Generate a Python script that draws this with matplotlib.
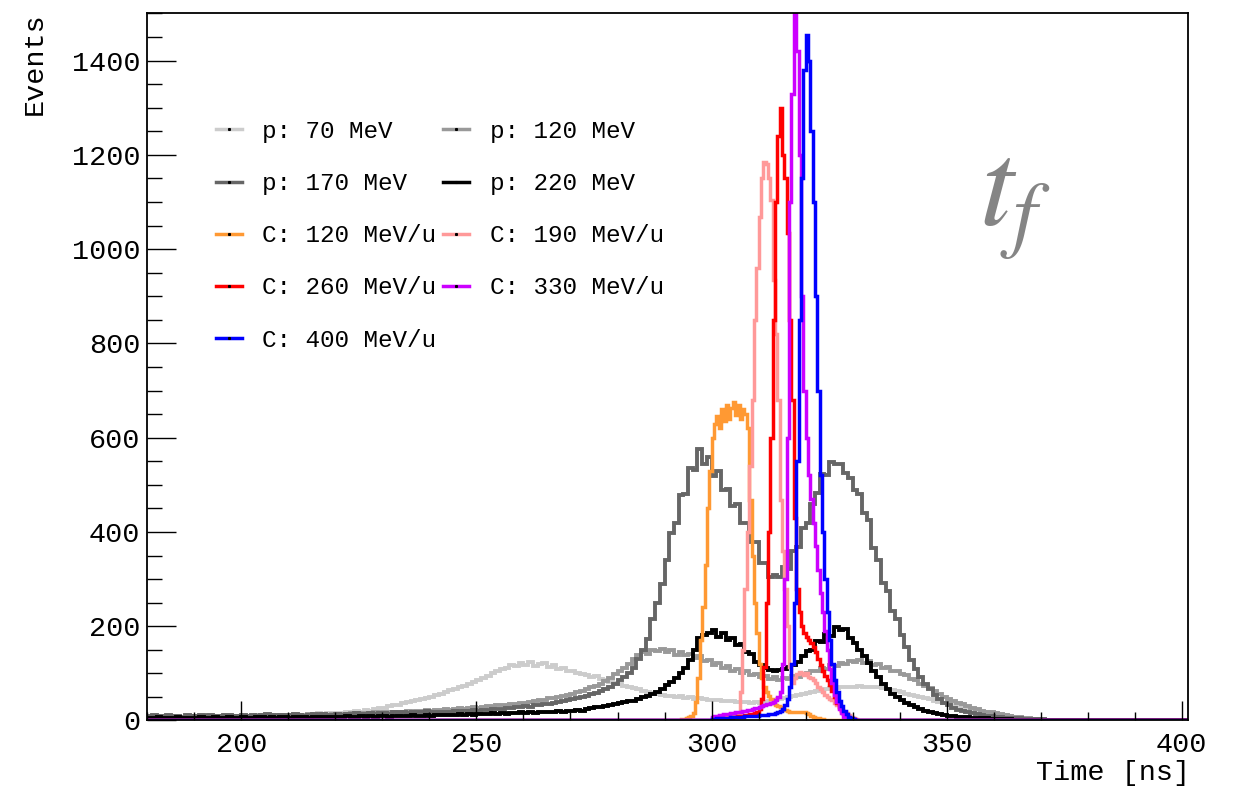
import numpy as np
import matplotlib
matplotlib.use("Agg")
import matplotlib.pyplot as plt
from matplotlib.ticker import MultipleLocator
from matplotlib.lines import Line2D

# time range of the histograms [ns]
t_lo = 180.0
t_hi = 401.3

labels = ["p: 70 MeV", "p: 120 MeV", "p: 170 MeV", "p: 220 MeV",
          "C: 120 MeV/u", "C: 190 MeV/u", "C: 260 MeV/u", "C: 330 MeV/u",
          "C: 400 MeV/u"]
colors = ["#cccccc", "#999999", "#666666", "#000000",
          "#ff9933", "#ff9999", "#ff0000", "#cc00ff", "#0000ff"]

# protons: 1 ns bins starting at 180 ns
p70 = [6, 5, 7, 6, 8, 6, 7, 5, 8, 7,
       6, 8, 7, 9, 7, 8, 6, 9, 8, 7,
       9, 8, 10, 8, 9, 11, 9, 10, 12, 10,
       11, 13, 11, 12, 14, 12, 15, 13, 16, 14,
       16, 15, 18, 17, 20, 19, 22, 21, 24, 26,
       27, 30, 32, 33, 37, 39, 42, 43, 46, 48,
       50, 54, 56, 60, 64, 66, 72, 74, 78, 82,
       85, 90, 95, 100, 104, 110, 112, 118, 115, 122,
       118, 124, 116, 120, 122, 114, 118, 110, 112, 104,
       106, 100, 98, 96, 92, 94, 88, 86, 82, 80,
       78, 74, 72, 68, 66, 63, 60, 58, 56, 55,
       53, 52, 50, 51, 48, 49, 46, 47, 45, 44,
       44, 43, 42, 42, 41, 40, 39, 40, 38, 39,
       38, 40, 41, 43, 45, 47, 49, 52, 54, 56,
       58, 60, 62, 64, 66, 68, 69, 70, 72, 71,
       72, 73, 71, 72, 70, 70, 68, 66, 64, 62,
       60, 57, 55, 52, 50, 47, 45, 42, 40, 37,
       35, 32, 30, 27, 25, 23, 21, 18, 17, 15,
       14, 12, 11, 9, 8, 7, 6, 5, 4, 3,
       3, 2, 2, 1, 1]
p120 = [8, 7, 9, 8, 10, 8, 9, 7, 8, 9,
        8, 9, 10, 8, 9, 10, 9, 8, 10, 9,
        9, 10, 9, 11, 10, 9, 11, 10, 12, 10,
        11, 10, 12, 11, 13, 11, 12, 13, 12, 14,
        13, 14, 13, 15, 14, 16, 15, 16, 17, 16,
        17, 18, 17, 19, 18, 20, 19, 21, 20, 22,
        21, 23, 22, 24, 23, 25, 26, 25, 27, 28,
        27, 29, 30, 29, 32, 33, 32, 35, 36, 38,
        37, 40, 41, 43, 44, 47, 48, 50, 53, 55,
        57, 60, 63, 66, 70, 74, 78, 84, 90, 98,
        105, 112, 120, 130, 138, 145, 142, 150, 148, 152,
        145, 150, 140, 146, 138, 142, 132, 136, 126, 128,
        118, 122, 112, 116, 106, 110, 100, 104, 96, 98,
        92, 95, 88, 92, 86, 90, 88, 94, 92, 98,
        100, 104, 106, 112, 110, 118, 116, 122, 120, 126,
        124, 128, 122, 126, 118, 120, 112, 114, 106, 104,
        98, 96, 88, 86, 78, 74, 68, 62, 56, 50,
        46, 42, 38, 34, 30, 27, 24, 21, 19, 17,
        15, 13, 11, 10, 8, 7, 6, 5, 4, 3,
        3, 2, 2, 1, 1]
p170 = [9, 11, 8, 10, 12, 9, 10, 8, 11, 10,
        9, 12, 10, 11, 9, 10, 12, 11, 10, 9,
        11, 10, 12, 9, 11, 13, 10, 12, 11, 9,
        12, 13, 11, 10, 12, 14, 11, 13, 12, 11,
        13, 12, 14, 12, 15, 13, 14, 16, 13, 15,
        16, 14, 17, 15, 18, 16, 17, 19, 18, 20,
        17, 18, 17, 19, 18, 20, 19, 21, 20, 22,
        21, 23, 22, 24, 25, 24, 27, 26, 28, 29,
        30, 29, 32, 33, 35, 34, 38, 40, 41, 43,
        45, 47, 50, 52, 56, 58, 63, 67, 72, 78,
        85, 92, 100, 112, 130, 150, 172, 215, 250, 290,
        340, 398, 420, 478, 480, 535, 532, 575, 545, 560,
        518, 530, 488, 492, 455, 460, 418, 418, 378, 378,
        335, 335, 305, 308, 305, 325, 322, 360, 368, 408,
        420, 460, 482, 522, 520, 548, 545, 545, 525, 515,
        490, 480, 440, 425, 365, 340, 292, 275, 232, 215,
        182, 155, 128, 110, 92, 78, 66, 55, 46, 38,
        32, 27, 23, 20, 17, 15, 13, 11, 10, 9,
        8, 7, 6, 6, 5, 5, 4, 4, 3, 3,
        3, 2, 2, 2, 1]
p220 = [6, 5, 7, 6, 5, 6, 7, 5, 6, 6,
        5, 7, 6, 6, 7, 5, 6, 7, 6, 5,
        7, 6, 6, 8, 7, 6, 7, 6, 8, 7,
        6, 7, 8, 7, 6, 8, 7, 8, 7, 8,
        7, 8, 9, 8, 7, 9, 8, 9, 8, 9,
        9, 8, 10, 9, 10, 9, 11, 10, 9, 11,
        10, 11, 12, 11, 12, 11, 13, 12, 13, 12,
        13, 14, 13, 15, 14, 15, 14, 16, 15, 17,
        16, 17, 16, 18, 17, 19, 18, 20, 19, 21,
        21, 22, 21, 24, 26, 28, 29, 31, 33, 35,
        37, 39, 42, 41, 45, 50, 53, 56, 61, 66,
        75, 82, 90, 100, 112, 128, 150, 175, 182, 186,
        192, 178, 185, 170, 176, 160, 162, 146, 142, 125,
        118, 112, 108, 106, 107, 110, 114, 118, 124, 136,
        148, 150, 168, 166, 184, 180, 198, 192, 195, 176,
        165, 150, 136, 122, 106, 92, 78, 66, 57, 50,
        44, 38, 33, 28, 24, 21, 18, 16, 14, 12,
        10, 9, 8, 8, 7, 6, 6, 5, 5, 4,
        4, 3, 3, 3, 2, 2, 2, 2, 1, 1,
        1, 1, 1, 0, 0]

# carbon: 0.5 ns bins
c120_t0 = 292.0
c120 = [1, 2, 2, 3, 4, 5,
        7, 10, 16, 40, 90, 170,
        240, 330, 450, 530, 600, 630,
        645, 620, 660, 635, 670, 640,
        662, 675, 648, 670, 640, 660,
        650, 620, 468, 350, 250, 185,
        120, 90, 70, 60, 52, 45,
        38, 33, 30, 28, 25, 22,
        20, 19, 18, 19, 18, 19,
        18, 17, 16, 13, 10, 8,
        6, 5, 4, 3, 2, 1]
c190_t0 = 300.0
c190 = [3, 4, 5, 5, 6, 7,
        8, 9, 10, 11, 13, 16,
        60, 150, 280, 400, 540, 680,
        850, 960, 1069, 1150, 1185, 1180,
        1150, 1105, 935, 820, 680, 468,
        360, 280, 200, 114, 80, 90,
        98, 102, 100, 96, 100, 92,
        90, 85, 80, 72, 66, 60,
        55, 50, 46, 43, 38, 32,
        27, 22, 18, 16, 12, 8,
        5, 3, 2, 1]
c260_t0 = 300.0
c260 = [2, 3, 3, 4, 4, 5,
        5, 6, 6, 7, 8, 9,
        10, 10, 11, 12, 13, 14,
        15, 18, 25, 45, 114, 250,
        400, 600, 850, 1100, 1240, 1300,
        1200, 1150, 1034, 850, 680, 430,
        280, 230, 200, 185, 178, 170,
        165, 155, 145, 130, 118, 105,
        95, 85, 75, 62, 50, 38,
        28, 20, 14, 9, 6, 4,
        3, 2, 1, 1]
c330_t0 = 300.0
c330 = [8, 9, 10, 11, 12, 13,
        13, 14, 15, 16, 17, 18,
        19, 20, 21, 22, 23, 25,
        26, 27, 28, 30, 32, 34,
        36, 38, 40, 44, 50, 60,
        120, 300, 600, 1100, 1330, 1530,
        1420, 1200, 900, 700, 600, 520,
        470, 420, 370, 320, 270, 230,
        190, 150, 110, 80, 55, 40,
        25, 15, 8, 4, 2, 1]
c400_t0 = 300.0
c400 = [4, 4, 5, 5, 5, 6,
        6, 6, 7, 7, 7, 8,
        8, 8, 9, 9, 9, 10,
        10, 10, 11, 11, 12, 12,
        13, 13, 14, 15, 17, 20,
        25, 32, 45, 70, 120, 250,
        550, 850, 1150, 1380, 1455, 1400,
        1250, 1100, 900, 700, 520, 400,
        300, 230, 170, 120, 85, 60,
        42, 30, 20, 13, 8, 5,
        3, 2]

series = [(p70, t_lo, 1.0), (p120, t_lo, 1.0), (p170, t_lo, 1.0), (p220, t_lo, 1.0),
          (c120, c120_t0, 0.5), (c190, c190_t0, 0.5), (c260, c260_t0, 0.5),
          (c330, c330_t0, 0.5), (c400, c400_t0, 0.5)]

mono = "Liberation Mono"
plt.rcParams["font.family"] = [mono, "DejaVu Sans"]

fig = plt.figure(figsize=(12.38, 7.87), dpi=100)
ax = fig.add_axes([0.119, 0.0845, 0.8405, 0.8985])

for (vals, t0, w), col in zip(series, colors):
    vals = np.asarray(vals, dtype=float)
    edges = t0 + w * np.arange(len(vals) + 1)
    # empty bins out to the ends of the axis
    if t0 > t_lo:
        vals = np.r_[0.0, vals]
        edges = np.r_[t_lo, edges]
    if edges[-1] < t_hi:
        vals = np.r_[vals, 0.0]
        edges = np.r_[edges, t_hi]
    lw = 2.8 if w == 1.0 else 2.5
    ax.stairs(vals, edges, baseline=None, color=col, lw=lw)

ax.set_xlim(t_lo, t_hi)
ax.set_ylim(0, 1500)
ax.xaxis.set_major_locator(MultipleLocator(50))
ax.xaxis.set_minor_locator(MultipleLocator(10))
ax.yaxis.set_major_locator(MultipleLocator(200))
ax.yaxis.set_minor_locator(MultipleLocator(50))
ax.tick_params(which="both", direction="in", top=False, right=False,
               width=1.0, labelsize=20.5)
ax.tick_params(axis="x", which="major", length=14, pad=8)
ax.tick_params(axis="x", which="minor", length=6)
ax.tick_params(axis="y", which="major", length=21, pad=5)
ax.tick_params(axis="y", which="minor", length=11)
for s in ax.spines.values():
    s.set_linewidth(1.3)

fig.text(35 / 1238, 1 - 12 / 787, "Events", rotation=90, ha="center", va="top",
         fontsize=20.5)
fig.text(1190 / 1238, 1 - 773 / 787, "Time [ns]", ha="right", va="center",
         fontsize=20.5)
fig.text(1015 / 1238, 1 - 205 / 787, r"$t_f$", ha="center", va="center",
         fontsize=88, color="#858585", math_fontfamily="stix")

# legend, filled row by row like the original
handles = [Line2D([], [], color=c, lw=2.5, marker="s", markersize=1.2,
                  markerfacecolor="k", markeredgecolor="k") for c in colors]
order = [0, 2, 4, 6, 8, 1, 3, 5, 7]
ax.legend([handles[i] for i in order], [labels[i] for i in order], ncol=2,
          loc="upper left", bbox_to_anchor=(216 / 1238, 1 - 120 / 787),
          bbox_transform=fig.transFigure, frameon=False, numpoints=1,
          prop={"family": mono, "size": 17.5}, handlelength=1.05,
          handletextpad=0.85, columnspacing=0.3, labelspacing=1.2,
          borderpad=0, borderaxespad=0)

fig.savefig("out.png", dpi=100)
